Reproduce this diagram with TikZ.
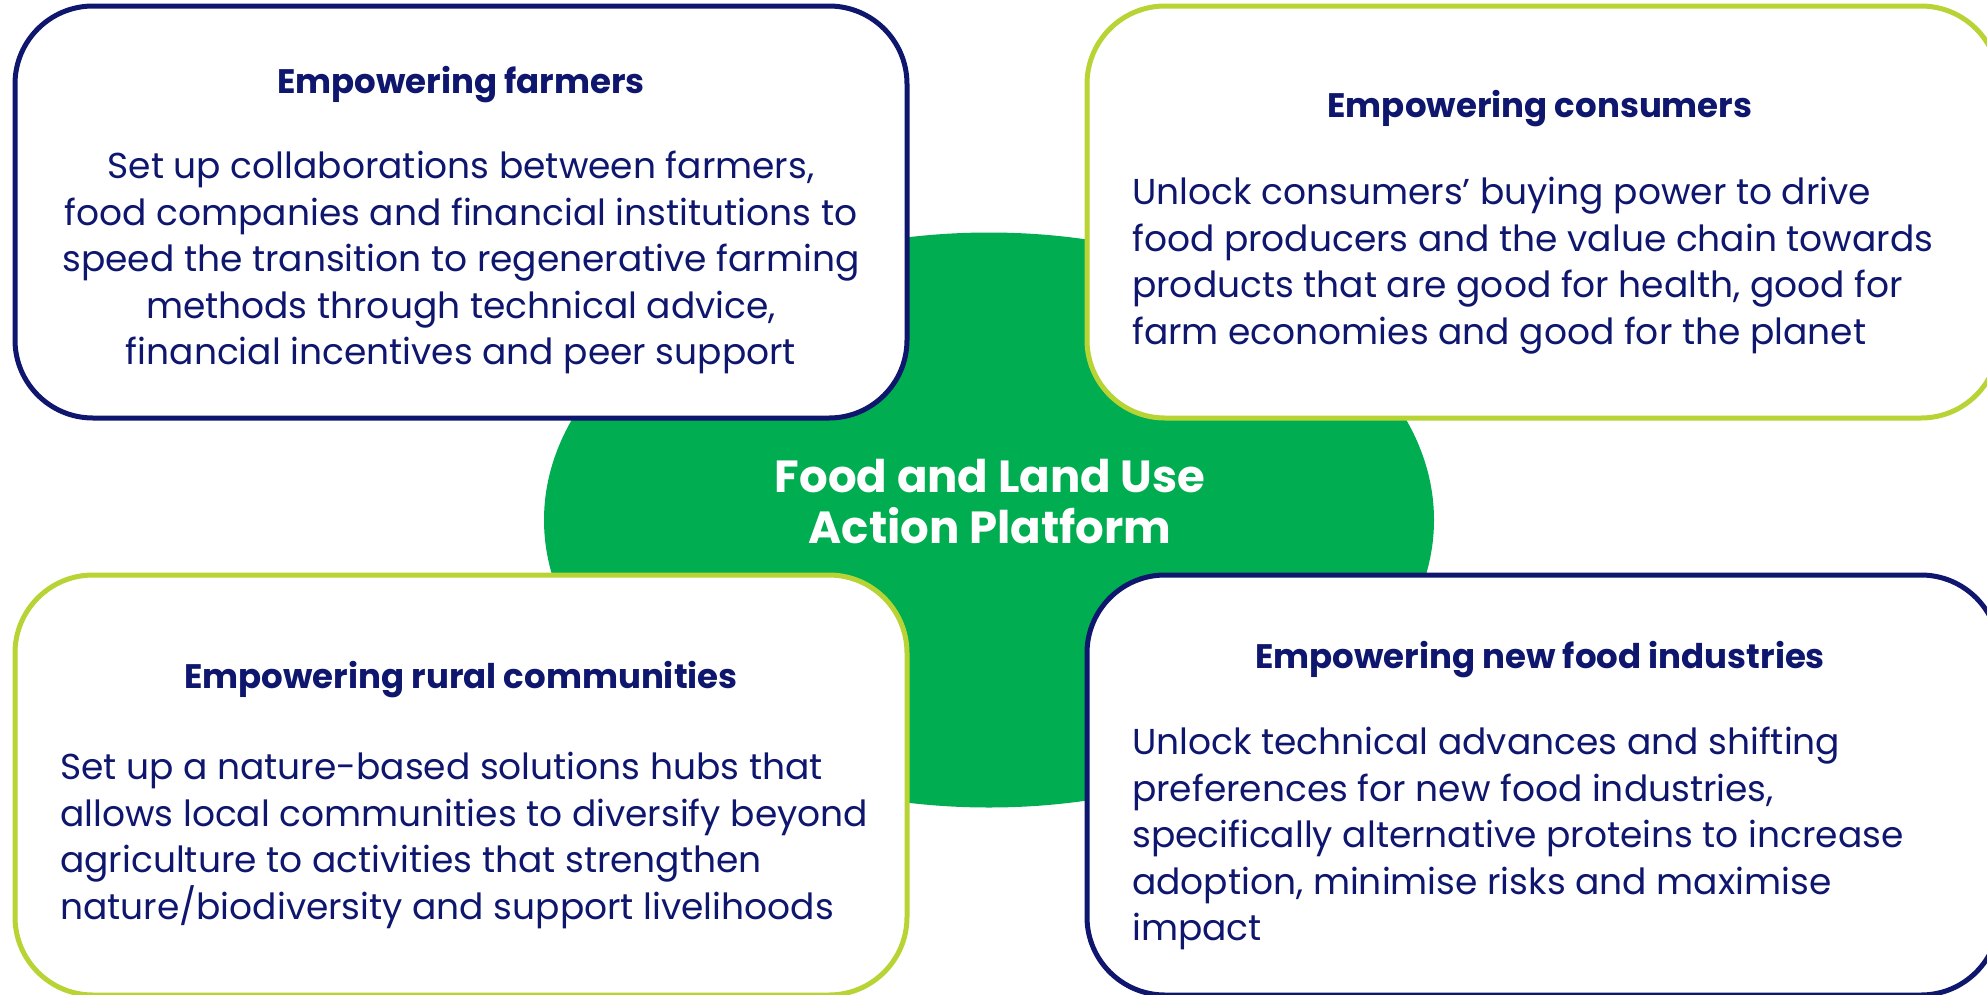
\documentclass[tikz,border=0pt]{standalone}
\usepackage{fontspec}
\setmainfont{Poppins}
\usetikzlibrary{shapes.geometric}
\definecolor{navy}{RGB}{14,22,110}
\definecolor{lime}{RGB}{183,212,52}
\definecolor{fgreen}{RGB}{0,173,80}
\tikzset{
  card/.style={draw, line width=5pt, fill=white, rounded corners=78pt, rectangle, inner sep=0pt},
  ttl/.style={text=navy, font=\fontsize{34}{40}\selectfont\bfseries, inner sep=0pt, anchor=base},
  bodyc/.style={text=navy, font=\fontsize{36}{46.5}\selectfont, align=center, inner sep=0pt, anchor=north},
  bodyl/.style={text=navy, font=\fontsize{36}{46.5}\selectfont, align=left, inner sep=0pt, anchor=north west},
}
\begin{document}
\begin{tikzpicture}[x=1pt,y=-1pt]
\useasboundingbox (0,0) rectangle (1987,994);
\clip (0,0) rectangle (1987,994);
\node[ellipse, fill=fgreen, minimum width=890pt, minimum height=575pt, inner sep=0pt] (hub) at (989,520) {};
\node[card, draw=navy, minimum width=892pt, minimum height=412pt] (farm) at (461,212) {};
\node[card, draw=lime, minimum width=912pt, minimum height=412pt] (cons) at (1543,212) {};
\node[card, draw=lime, minimum width=892pt, minimum height=420pt] (rural) at (461,785) {};
\node[card, draw=navy, minimum width=912pt, minimum height=420pt] (ind) at (1543,785) {};
\node[text=white, font=\fontsize{45}{51}\selectfont\bfseries, align=center, inner sep=0pt] (hubtxt) at (990,502) {Food and Land Use\\Action Platform};
\node[ttl] (t1) at (461,93) {Empowering farmers};
\node[bodyc] (b1) at (461,151) {Set up collaborations between farmers,\\food companies and financial institutions to\\speed the transition to regenerative farming\\methods through technical advice,\\financial incentives and peer support};
\node[ttl] (t2) at (1540,117) {Empowering consumers};
\node[bodyl] (b2) at (1132,177) {Unlock consumers’ buying power to drive\\food producers and the value chain towards\\products that are good for health, good for\\farm economies and good for the planet};
\node[ttl] (t3) at (461,688) {Empowering rural communities};
\node[bodyl] (b3) at (60,752) {Set up a nature-based solutions hubs that\\allows local communities to diversify beyond\\agriculture to activities that strengthen\\nature/biodiversity and support livelihoods};
\node[ttl] (t4) at (1540,668) {Empowering new food industries};
\node[bodyl] (b4) at (1132,727) {Unlock technical advances and shifting\\preferences for new food industries,\\specifically alternative proteins to increase\\adoption, minimise risks and maximise\\impact};
\end{tikzpicture}
\end{document}
